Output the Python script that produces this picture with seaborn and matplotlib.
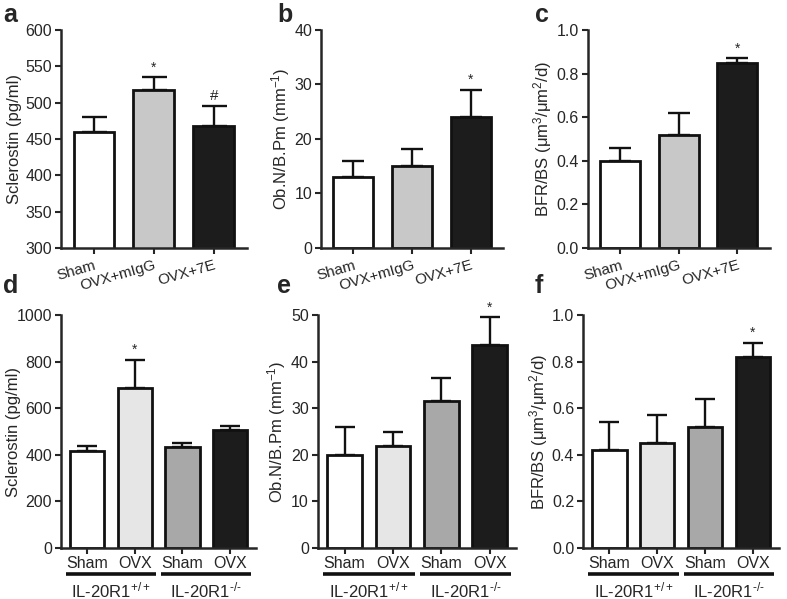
import numpy as np
import pandas as pd
import matplotlib
matplotlib.use("Agg")
import matplotlib.pyplot as plt
import seaborn as sns

# ---- data ----
top_groups = ["Sham", "OVX+mIgG", "OVX+7E"]
bot_groups = ["Sham ", "OVX ", "Sham", "OVX"]  # WT pair, KO pair
bot_labels = ["Sham", "OVX", "Sham", "OVX"]
geno_labels = ["IL-20R1$^{+/+}$", r"IL-20R1$^{\text{-/-}}$"]

scl_top = [460, 518, 468]
scl_top_err = [20, 17, 27]
ob_top = [13, 15, 24]
ob_top_err = [3, 3.2, 5]
bfr_top = [0.40, 0.52, 0.85]
bfr_top_err = [0.06, 0.10, 0.02]

scl_bot = [418, 688, 433, 505]
scl_bot_err = [22, 120, 17, 18]
ob_bot = [20, 22, 31.5, 43.5]
ob_bot_err = [6, 3, 5, 6]
bfr_bot = [0.42, 0.45, 0.52, 0.82]
bfr_bot_err = [0.12, 0.12, 0.12, 0.06]

# significance marks: (bar index, symbol)
marks_a = [(1, "*"), (2, "#")]
marks_b = [(2, "*")]
marks_c = [(2, "*")]
marks_d = [(1, "*")]
marks_e = [(3, "*")]
marks_f = [(3, "*")]

top_colors = ["#ffffff", "#c8c8c8", "#1c1c1c"]
bot_colors = ["#ffffff", "#e6e6e6", "#a8a8a8", "#1c1c1c"]

# ---- style ----
sns.set_style("ticks")
plt.rcParams["font.family"] = ["Liberation Sans", "DejaVu Sans"]
plt.rcParams["mathtext.fontset"] = "custom"
plt.rcParams["mathtext.rm"] = "Liberation Sans"
plt.rcParams["mathtext.it"] = "Liberation Sans:italic"
plt.rcParams["mathtext.bf"] = "Liberation Sans:bold"
plt.rcParams["axes.linewidth"] = 1.8
plt.rcParams["xtick.major.width"] = 1.5
plt.rcParams["ytick.major.width"] = 1.5
plt.rcParams["xtick.major.size"] = 4
plt.rcParams["ytick.major.size"] = 4

W, H = 787, 599
fig = plt.figure(figsize=(W / 100, H / 100), dpi=100)


def panel(rect, cats, vals, errs, colors, ylim, step, ylabel, marks, width, capsize, fmt,
          label_px):
    ax = fig.add_axes(rect)
    df = pd.DataFrame({"group": cats, "value": vals})
    sns.barplot(data=df, x="group", y="value", hue="group", palette=colors,
                legend=False, edgecolor="#111111", linewidth=2, width=width,
                order=cats, hue_order=cats, ax=ax, zorder=2)
    n = len(vals)
    ax.errorbar(np.arange(n), vals, yerr=[np.zeros(n), errs], fmt="none",
                ecolor="#111111", elinewidth=1.7, capsize=capsize, capthick=1.7, zorder=1)
    for i, sym in marks:
        ax.annotate(sym, (i, vals[i] + errs[i]), xytext=(0, 2), textcoords="offset points",
                    ha="center", va="bottom", fontsize=10 if sym == "*" else 11)
    ax.set_ylim(*ylim)
    ax.set_yticks(np.arange(ylim[0], ylim[1] + step / 2, step))
    ax.yaxis.set_major_formatter(matplotlib.ticker.FormatStrFormatter(fmt))
    ax.set_xlim(-0.55, n - 0.45)
    ax.set_xlabel("")
    ax.set_ylabel(ylabel, fontsize=12)
    # place label so its right edge sits at label_px (figure pixels)
    ax.yaxis.set_label_coords((label_px - rect[0] * W) / (rect[2] * W), 0.5)
    ax.tick_params(axis="y", labelsize=11.5, direction="out", pad=2.5)
    sns.despine(ax=ax)
    return ax


def top_xlabels(ax):
    ax.set_xticks(range(len(top_groups)))
    ax.set_xticklabels(top_groups, rotation=16, ha="right", va="top",
                       rotation_mode="anchor", fontsize=11)


def bottom_groups(ax):
    ax.set_xticks(range(len(bot_labels)))
    ax.set_xticklabels(bot_labels, fontsize=11.5)
    ax.tick_params(axis="x", pad=1.5)
    tr = ax.get_xaxis_transform()
    for k, lab in enumerate(geno_labels):
        x0, x1 = 2 * k - 0.45, 2 * k + 1.45
        ax.plot([x0, x1], [-0.11, -0.11], color="#111111", lw=2.6,
                transform=tr, clip_on=False, solid_capstyle="butt")
        ax.text((x0 + x1) / 2, -0.137, lab, transform=tr, ha="center", va="top",
                fontsize=12)


h_top = 0.364
h_bot = 0.389

ax_a = panel([0.0775, 0.586, 0.236, h_top], top_groups, scl_top, scl_top_err, top_colors,
             (300, 600), 50, "Sclerostin (pg/ml)", marks_a, 0.68, 9, "%d", 22)
top_xlabels(ax_a)
ax_b = panel([0.408, 0.586, 0.231, h_top], top_groups, ob_top, ob_top_err, top_colors,
             (0, 40), 10, "Ob.N/B.Pm (mm$^{-1}$)", marks_b, 0.68, 8, "%d", 292)
top_xlabels(ax_b)
ax_c = panel([0.747, 0.586, 0.231, h_top], top_groups, bfr_top, bfr_top_err, top_colors,
             (0, 1.0), 0.2, "BFR/BS (μm$^{3}$/μm$^{2}$/d)", marks_c, 0.68, 8, "%.1f", 554)
top_xlabels(ax_c)

ax_d = panel([0.0775, 0.085, 0.248, h_bot], bot_groups, scl_bot, scl_bot_err, bot_colors,
             (0, 1000), 200, "Sclerostin (pg/ml)", marks_d, 0.72, 7, "%d", 21)
bottom_groups(ax_d)
ax_e = panel([0.404, 0.085, 0.252, h_bot], bot_groups, ob_bot, ob_bot_err, bot_colors,
             (0, 50), 10, "Ob.N/B.Pm (mm$^{-1}$)", marks_e, 0.72, 7, "%d", 288)
bottom_groups(ax_e)
ax_f = panel([0.741, 0.085, 0.249, h_bot], bot_groups, bfr_bot, bfr_bot_err, bot_colors,
             (0, 1.0), 0.2, "BFR/BS (μm$^{3}$/μm$^{2}$/d)", marks_f, 0.72, 7, "%.1f", 550)
bottom_groups(ax_f)

for lab, x, y in [("a", 3, 3), ("b", 277, 3), ("c", 535, 3),
                  ("d", 3, 274), ("e", 277, 274), ("f", 535, 274)]:
    fig.text(x / W, 1 - y / H, lab, fontsize=18, fontweight="bold", ha="left", va="top")

fig.savefig("out.png", dpi=100)
